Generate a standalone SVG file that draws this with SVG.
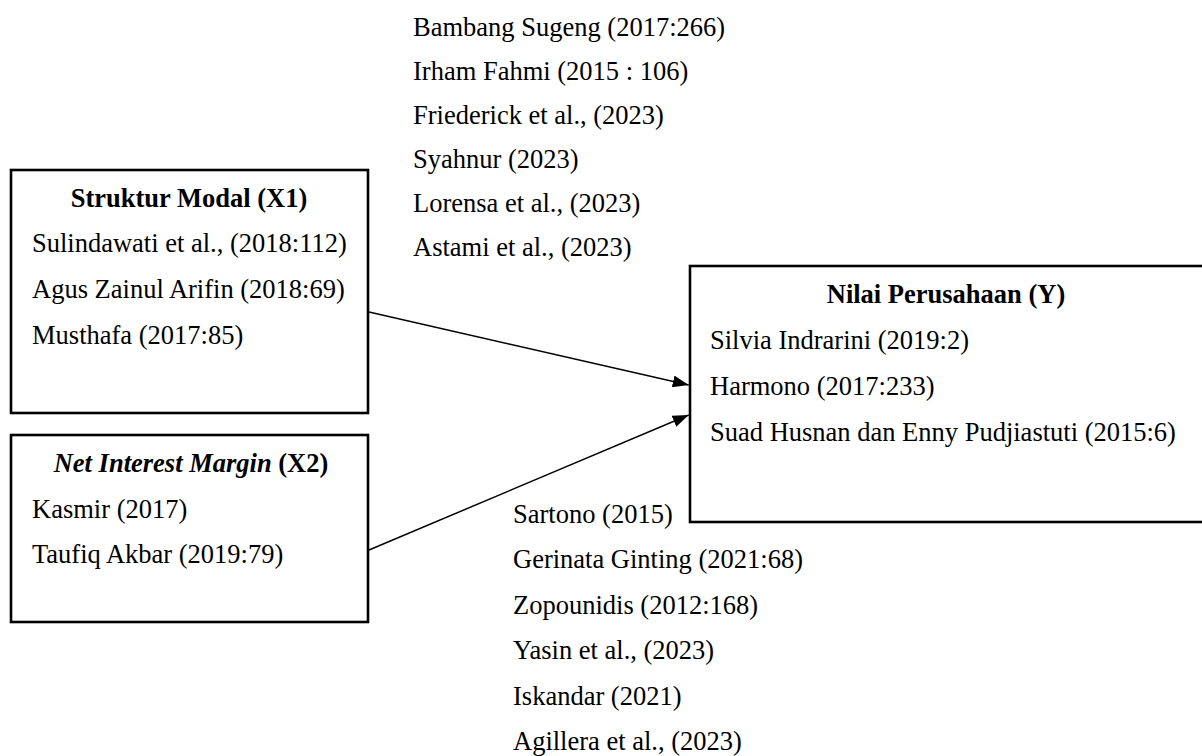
<svg xmlns="http://www.w3.org/2000/svg" width="1202" height="756" viewBox="0 0 1202 756">
<defs>
<style>
text{font-family:"Liberation Serif","Times New Roman",serif;font-size:26.5px;fill:#000}
.t{font-weight:bold}
.c{text-anchor:middle}
.box{fill:#fff;stroke:#000;stroke-width:2.6}
.edge{stroke:#000;stroke-width:1.5;fill:none}
</style>
<marker id="ah" viewBox="0 0 16 12" refX="16" refY="6" markerWidth="16" markerHeight="12" markerUnits="userSpaceOnUse" orient="auto">
<path d="M0,0 L16,6 L0,12 z" fill="#000"/>
</marker>
</defs>
<rect width="1202" height="756" fill="#fff"/>
<g id="refs-top">
<text x="413" y="36">Bambang Sugeng (2017:266)</text>
<text x="413" y="80">Irham Fahmi (2015 : 106)</text>
<text x="413" y="124">Friederick et al., (2023)</text>
<text x="413" y="168">Syahnur (2023)</text>
<text x="413" y="212">Lorensa et al., (2023)</text>
<text x="413" y="256">Astami et al., (2023)</text>
</g>
<g id="x1">
<rect class="box" x="11" y="170" width="357" height="243"/>
<text class="t c" x="189" y="207">Struktur Modal (X1)</text>
<text x="32" y="252">Sulindawati et al., (2018:112)</text>
<text x="32" y="298">Agus Zainul Arifin (2018:69)</text>
<text x="32" y="344">Musthafa (2017:85)</text>
</g>
<g id="x2">
<rect class="box" x="11" y="435" width="357" height="187"/>
<text class="c" x="191" y="472"><tspan class="t" font-style="italic">Net Interest Margin</tspan><tspan class="t"> (X2)</tspan></text>
<text x="32" y="518">Kasmir (2017)</text>
<text x="32" y="563">Taufiq Akbar (2019:79)</text>
</g>
<g id="y">
<rect class="box" x="690" y="266" width="515" height="256"/>
<text class="t c" x="946" y="303">Nilai Perusahaan (Y)</text>
<text x="710" y="349">Silvia Indrarini (2019:2)</text>
<text x="710" y="395">Harmono (2017:233)</text>
<text x="710" y="441">Suad Husnan dan Enny Pudjiastuti (2015:6)</text>
</g>
<g id="refs-bottom">
<text x="513" y="523">Sartono (2015)</text>
<text x="513" y="568">Gerinata Ginting (2021:68)</text>
<text x="513" y="614">Zopounidis (2012:168)</text>
<text x="513" y="659">Yasin et al., (2023)</text>
<text x="513" y="705">Iskandar (2021)</text>
<text x="513" y="750">Agillera et al., (2023)</text>
</g>
<g id="connectors">
<line class="edge" x1="369" y1="312" x2="688.7" y2="385" marker-end="url(#ah)"/>
<line class="edge" x1="369" y1="550" x2="688.7" y2="415" marker-end="url(#ah)"/>
</g>
</svg>
